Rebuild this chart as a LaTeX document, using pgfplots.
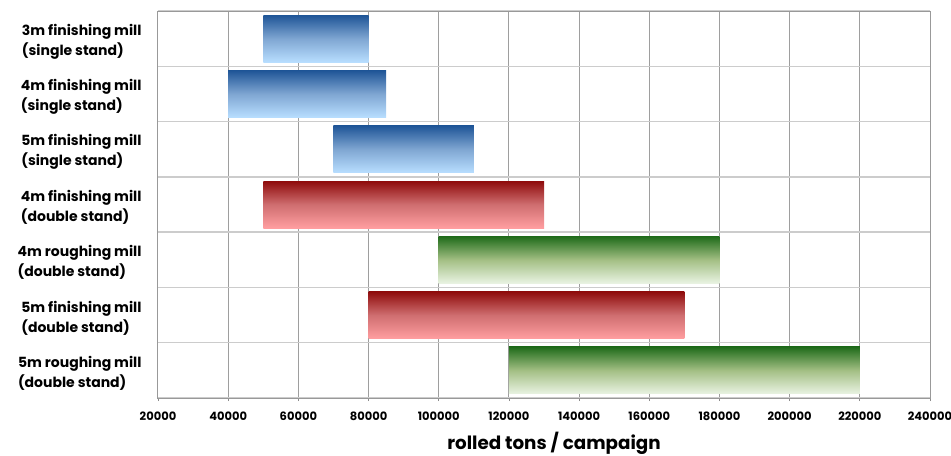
\documentclass[border=0pt]{standalone}
\usepackage{pgfplots}
\pgfplotsset{compat=1.18}
\usepackage{fontspec}
\setmainfont{Poppins}
\definecolor{bluetop}{HTML}{1F5597}
\definecolor{bluemid}{HTML}{7FA6D2}
\definecolor{bluebot}{HTML}{B8DEFF}
\definecolor{redtop}{HTML}{8E0B0B}
\definecolor{redmid}{HTML}{CF6E70}
\definecolor{redbot}{HTML}{FF9EA0}
\definecolor{greentop}{HTML}{1F6B1A}
\definecolor{greenmid}{HTML}{A3BF84}
\definecolor{greenbot}{HTML}{E9F3E2}
\pgfplotsset{
  bluebar/.style={draw=none, top color=bluetop, bottom color=bluebot, middle color=bluemid},
  redbar/.style={draw=none, top color=redtop, bottom color=redbot, middle color=redmid},
  greenbar/.style={draw=none, top color=greentop, bottom color=greenbot, middle color=greenmid},
}
\begin{document}
\begin{tikzpicture}
\begin{axis}[name=ax, scale only axis, width=772pt, height=387pt,
  xmin=20000, xmax=240000, xtick={20000,40000,...,240000},
  ymin=-0.5, ymax=6.5, y dir=reverse,
  ytick={0,...,6},
  yticklabels={{3m finishing mill\\(single stand)},{4m finishing mill\\(single stand)},{5m finishing mill\\(single stand)},{4m finishing mill\\(double stand)},{4m roughing mill\\(double stand)},{5m finishing mill\\(double stand)},{5m roughing mill\\(double stand)}},
  minor ytick={-0.5,0.5,...,6.5},
  yminorgrids=true, xmajorgrids=true,
  major x grid style={color=black!38, line width=1pt},
  minor y grid style={color=black!20, line width=1.5pt},
  tick pos=left, tick align=outside,
  major tick length=3pt, minor tick length=0pt,
  ytick style={draw=none},
  xtick style={color=black!45, line width=0.8pt},
  extra y ticks={0.5,2.5,4.5,6.5}, extra y tick labels={\empty,\empty,\empty,\empty},
  extra y tick style={grid=none, major tick length=4pt, tick style={draw=black!45, line width=0.8pt}},
  axis line style={color=black!40, line width=1pt},
  scaled x ticks=false,
  /pgf/number format/fixed,
  /pgf/number format/precision=0,
  /pgf/number format/1000 sep={},
  /pgf/number format/assume math mode=true,
  xticklabel style={font=\fontsize{11.5}{13}\selectfont\bfseries, yshift=-7.5pt},
  yticklabel style={font=\fontsize{14}{20}\selectfont\bfseries, align=left, xshift=-10pt, yshift=-3pt},
  xlabel={rolled tons / campaign},
  xlabel style={font=\fontsize{18.3}{20}\selectfont\bfseries, yshift=-4pt, xshift=10pt},
]
% each bar: start and end of the range, row centre at y = 0..6, half height 0.425
\addplot[bluebar] coordinates {(50000,-0.425) (80000,-0.425) (80000,0.425) (50000,0.425)} -- cycle;
\addplot[bluebar] coordinates {(40000,0.575) (85000,0.575) (85000,1.425) (40000,1.425)} -- cycle;
\addplot[bluebar] coordinates {(70000,1.575) (110000,1.575) (110000,2.425) (70000,2.425)} -- cycle;
\addplot[redbar] coordinates {(50000,2.575) (130000,2.575) (130000,3.425) (50000,3.425)} -- cycle;
\addplot[greenbar] coordinates {(100000,3.575) (180000,3.575) (180000,4.425) (100000,4.425)} -- cycle;
\addplot[redbar] coordinates {(80000,4.575) (170000,4.575) (170000,5.425) (80000,5.425)} -- cycle;
\addplot[greenbar] coordinates {(120000,5.575) (220000,5.575) (220000,6.425) (120000,6.425)} -- cycle;
\end{axis}
\pgfresetboundingbox
\path ([xshift=-158pt,yshift=-57pt]ax.south west) rectangle ([xshift=21pt,yshift=11pt]ax.north east);
\end{tikzpicture}
\end{document}
